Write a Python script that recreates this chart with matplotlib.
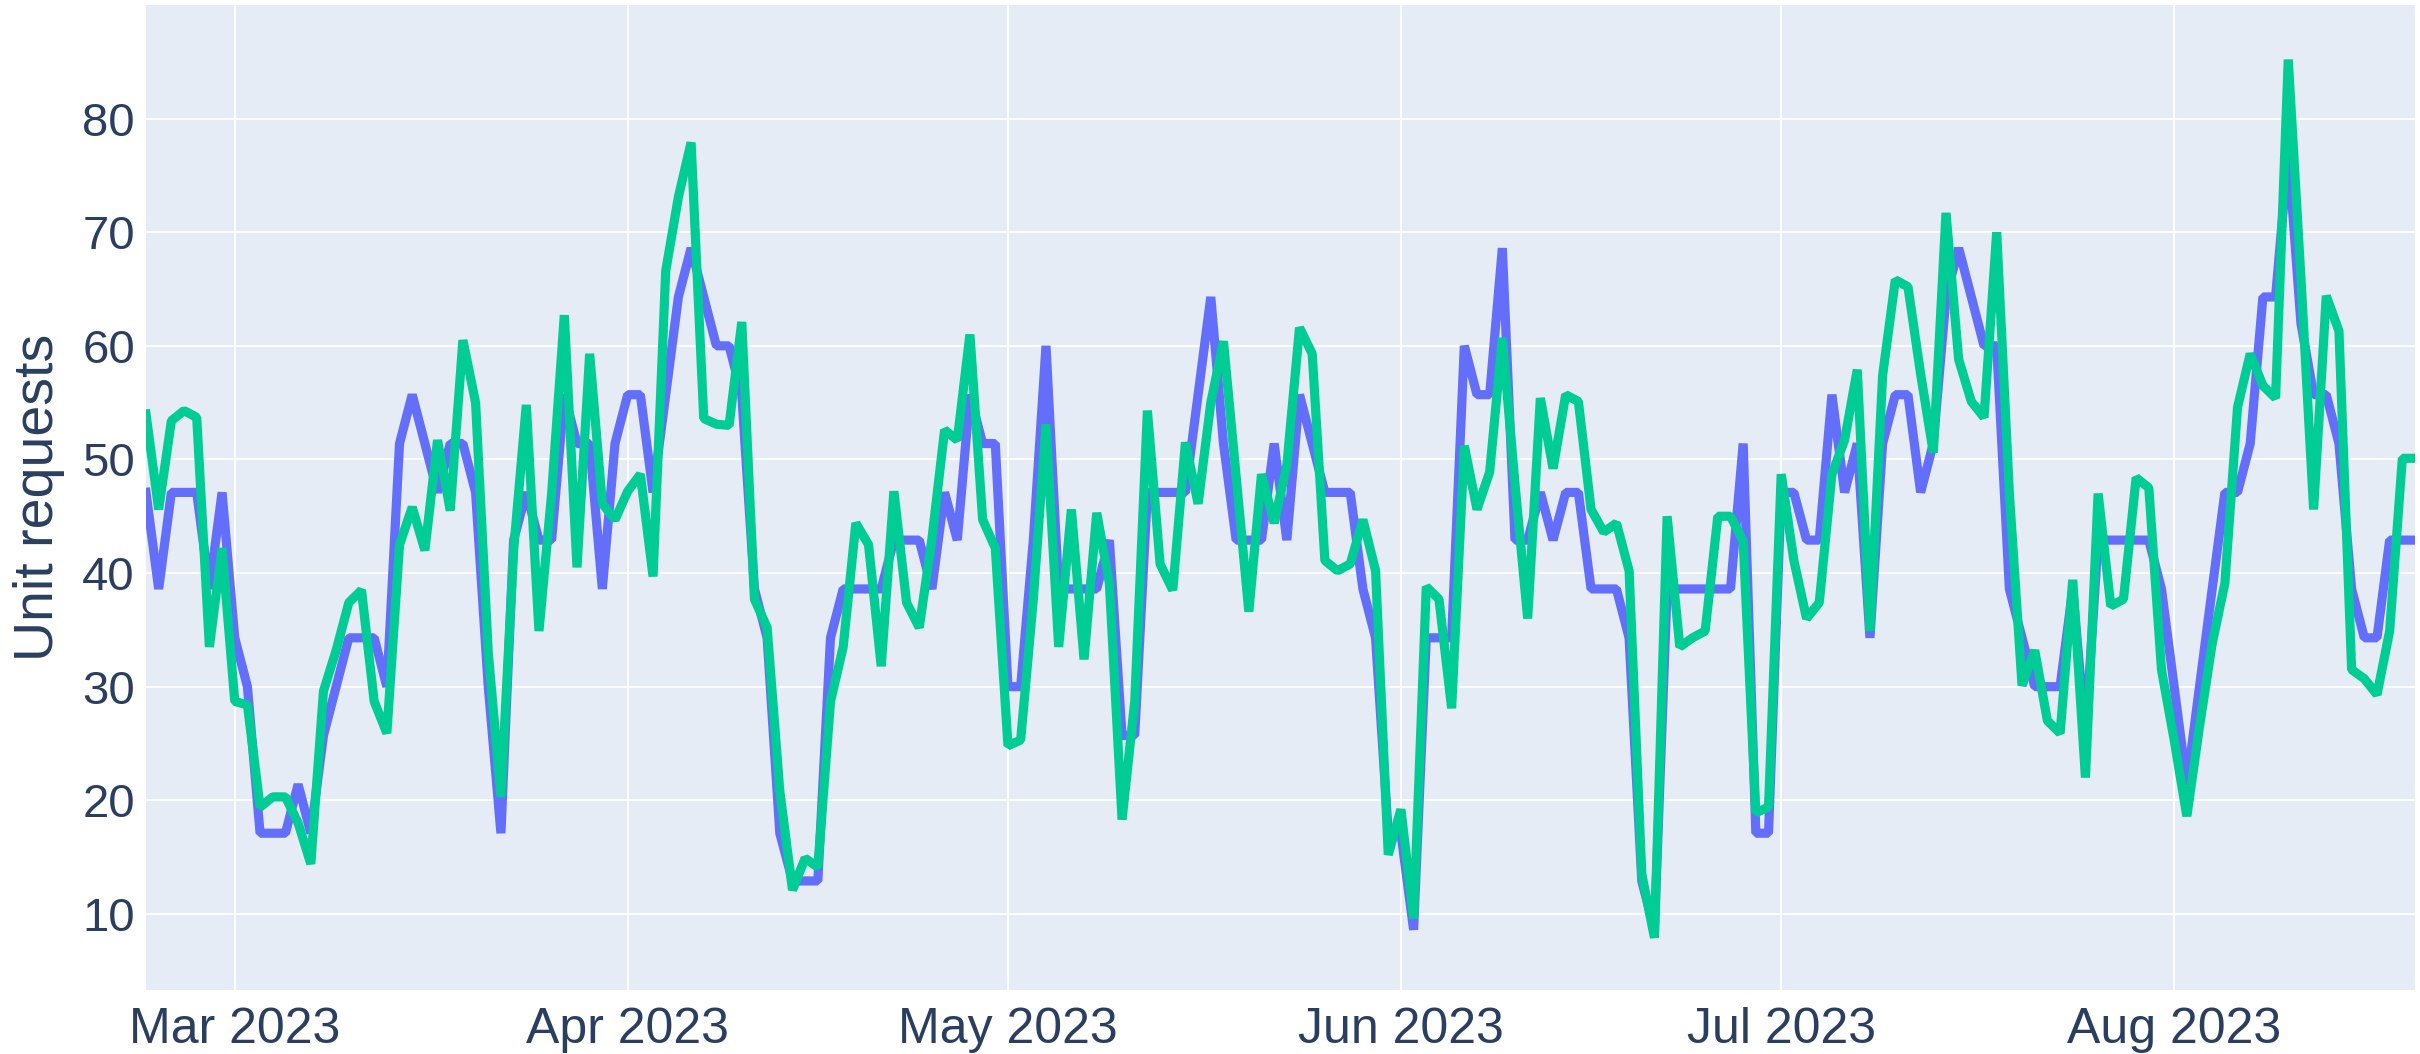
import numpy as np
import pandas as pd
import matplotlib
matplotlib.use("Agg")
import matplotlib.pyplot as plt
import matplotlib.dates as mdates

# daily series, 2023-02-22 .. 2023-08-20
start_date = "2023-02-22"
end_date = "2023-08-20"

blue_values = [
    47.1, 38.6, 47.1, 47.1, 47.1, 38.6, 47.1, 34.3, 30.0, 17.1,
    17.1, 17.1, 21.4, 17.1, 25.7, 30.0, 34.3, 34.3, 34.3, 30.0,
    51.4, 55.7, 51.4, 47.1, 51.4, 51.4, 47.1, 30.0, 17.1, 42.9,
    47.1, 42.9, 42.9, 55.7, 51.4, 51.4, 38.6, 51.4, 55.7, 55.7,
    47.1, 55.7, 64.3, 68.6, 64.3, 60.0, 60.0, 55.7, 38.6, 34.3,
    17.1, 12.9, 12.9, 12.9, 34.3, 38.6, 38.6, 38.6, 38.6, 42.9,
    42.9, 42.9, 38.6, 47.1, 42.9, 55.7, 51.4, 51.4, 30.0, 30.0,
    42.9, 60.0, 38.6, 38.6, 38.6, 38.6, 42.9, 25.7, 25.7, 47.1,
    47.1, 47.1, 47.1, 55.7, 64.3, 51.4, 42.9, 42.9, 42.9, 51.4,
    42.9, 55.7, 51.4, 47.1, 47.1, 47.1, 38.6, 34.3, 17.1, 17.1,
    8.6, 34.3, 34.3, 34.3, 60.0, 55.7, 55.7, 68.6, 42.9, 42.9,
    47.1, 42.9, 47.1, 47.1, 38.6, 38.6, 38.6, 34.3, 12.9, 8.6,
    38.6, 38.6, 38.6, 38.6, 38.6, 38.6, 51.4, 17.1, 17.1, 47.1,
    47.1, 42.9, 42.9, 55.7, 47.1, 51.4, 34.3, 51.4, 55.7, 55.7,
    47.1, 51.4, 64.3, 68.6, 64.3, 60.0, 60.0, 38.6, 34.3, 30.0,
    30.0, 30.0, 38.6, 25.7, 42.9, 42.9, 42.9, 42.9, 42.9, 38.6,
    30.0, 21.4, 30.0, 38.6, 47.1, 47.1, 51.4, 64.3, 64.3, 77.1,
    62.0, 55.7, 55.7, 51.4, 38.6, 34.3, 34.3, 42.9, 42.9, 42.9,
]

green_values = [
    54.0, 45.6, 53.4, 54.3, 53.7, 33.5, 42.2, 28.7, 28.4, 19.4,
    20.3, 20.3, 18.0, 14.4, 29.6, 33.2, 37.4, 38.5, 28.7, 25.9,
    42.5, 45.8, 42.0, 51.7, 45.5, 60.5, 55.0, 33.0, 20.3, 42.0,
    54.8, 34.9, 47.0, 62.7, 40.5, 59.3, 46.1, 44.7, 47.2, 48.7,
    39.7, 66.6, 73.1, 77.9, 53.6, 53.1, 53.0, 62.1, 37.7, 35.2,
    20.8, 12.1, 14.9, 14.1, 28.7, 33.5, 44.4, 42.5, 31.8, 47.2,
    37.4, 35.2, 43.0, 52.6, 51.7, 61.0, 44.7, 42.2, 24.8, 25.3,
    37.7, 53.1, 33.5, 45.6, 32.4, 45.3, 39.1, 18.3, 28.7, 54.3,
    40.8, 38.5, 51.5, 46.1, 55.0, 60.4, 48.5, 36.6, 48.7, 44.4,
    49.5, 61.6, 59.3, 41.1, 40.2, 40.8, 44.7, 40.2, 15.2, 19.2,
    9.6, 38.8, 37.7, 28.1, 51.2, 45.6, 48.9, 60.7, 47.8, 36.0,
    55.4, 49.2, 55.7, 55.1, 45.6, 43.6, 44.4, 40.2, 13.5, 7.9,
    45.0, 33.5, 34.3, 34.9, 45.0, 45.0, 42.8, 18.9, 19.4, 48.7,
    41.1, 36.0, 37.4, 48.7, 51.7, 57.9, 34.9, 57.4, 65.8, 65.2,
    57.5, 50.6, 71.7, 58.8, 55.1, 53.7, 70.0, 47.0, 30.1, 33.2,
    27.0, 25.9, 39.4, 22.0, 47.0, 37.1, 37.7, 48.4, 47.5, 31.5,
    25.3, 18.6, 26.5, 33.8, 39.1, 54.6, 59.3, 56.5, 55.4, 85.2,
    66.0, 45.6, 64.4, 61.3, 31.5, 30.7, 29.3, 34.9, 50.1, 50.1,
]

y_ticks = [10, 20, 30, 40, 50, 60, 70, 80]
y_title = "Unit requests"

dates = pd.date_range(start_date, end_date, freq="D")

font_color = "#2a3f5f"
plt.rcParams["font.family"] = ["Liberation Sans", "DejaVu Sans"]

fig = plt.figure(figsize=(24.2, 10.54), dpi=100)
ax = fig.add_axes([146 / 2420, 64 / 1054, 2269 / 2420, 985 / 1054])
ax.set_facecolor("#E5ECF6")

ax.plot(dates, blue_values, color="#636EFA", linewidth=6.6, solid_joinstyle="bevel", zorder=3)
ax.plot(dates, green_values, color="#00CC96", linewidth=6.6, solid_joinstyle="bevel", zorder=4)

ax.set_xlim(dates[0], dates[-1])
ax.set_ylim(3.3, 90.0)

# month ticks like plotly
ax.xaxis.set_major_locator(mdates.MonthLocator())
ax.xaxis.set_major_formatter(mdates.DateFormatter("%b %Y"))
ax.set_yticks(y_ticks)

ax.grid(True, color="white", linewidth=1.3, zorder=1)
ax.set_axisbelow(True)
for s in ax.spines.values():
    s.set_visible(False)

ax.tick_params(axis="both", length=0, labelcolor=font_color)
ax.tick_params(axis="x", pad=12, labelsize=36)
ax.tick_params(axis="y", pad=8, labelsize=34)
ax.set_ylabel(y_title, fontsize=40, color=font_color, labelpad=12)

fig.savefig("out.png", dpi=100, facecolor="white")
